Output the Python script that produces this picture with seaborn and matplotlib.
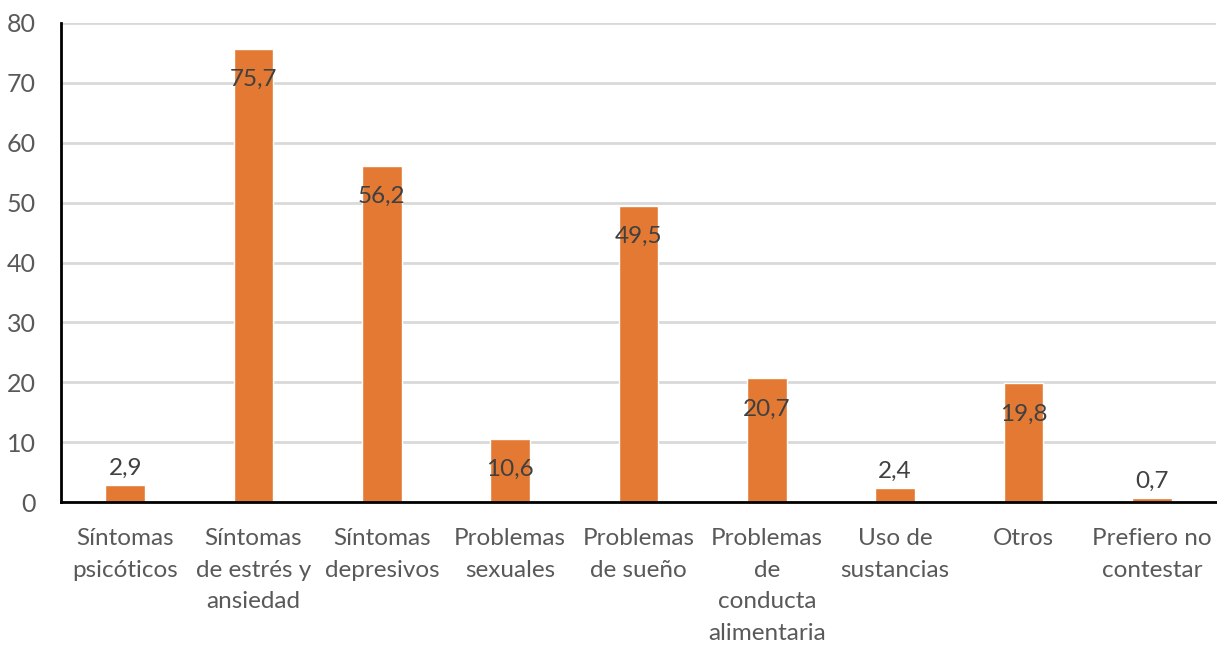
import matplotlib
matplotlib.use("Agg")
import matplotlib.pyplot as plt
import seaborn as sns
import pandas as pd

categorias = [
    "Síntomas\npsicóticos",
    "Síntomas\nde estrés y\nansiedad",
    "Síntomas\ndepresivos",
    "Problemas\nsexuales",
    "Problemas\nde sueño",
    "Problemas\nde\nconducta\nalimentaria",
    "Uso de\nsustancias",
    "Otros",
    "Prefiero no\ncontestar",
]
valores = [2.9, 75.7, 56.2, 10.6, 49.5, 20.7, 2.4, 19.8, 0.7]
ticks_y = [0, 10, 20, 30, 40, 50, 60, 70, 80]

sns.set_theme(style="white")
plt.rcParams["font.family"] = ["Lato", "DejaVu Sans"]

df = pd.DataFrame({"categoria": categorias, "valor": valores})

fig = plt.figure(figsize=(12.17, 6.48), dpi=100)
ax = fig.add_axes([61 / 1217, 1 - 502 / 648, (1216 - 61) / 1217, (502 - 23) / 648])

sns.barplot(data=df, x="categoria", y="valor", color="#E37933", saturation=1,
            width=0.31, ax=ax, zorder=3)

ax.set_ylim(0, 80)
ax.set_xlim(-0.5, len(categorias) - 0.5)
ax.set_yticks(ticks_y)
ax.yaxis.grid(True, color="#D9D9D9", linewidth=2, zorder=0)
ax.set_axisbelow(True)
ax.set_xlabel("")
ax.set_ylabel("")

for s in ["top", "right"]:
    ax.spines[s].set_visible(False)
for s in ["left", "bottom"]:
    ax.spines[s].set_color("black")
    ax.spines[s].set_linewidth(2)
    ax.spines[s].set_zorder(4)

ax.tick_params(axis="y", length=0, pad=18, labelsize=18, labelcolor="#595959")
ax.tick_params(axis="x", length=0, pad=19, labelsize=17.5, labelcolor="#595959")
for lbl in ax.get_xticklabels():
    lbl.set_linespacing(1.62)
    lbl.set_horizontalalignment("center")

# value labels: inside the top of tall bars, above short ones
px_per_unit = (502 - 23) / 80
for i, v in enumerate(valores):
    txt = f"{v:.1f}".replace(".", ",")
    if v >= 5:
        y = v - 31 / px_per_unit
    else:
        y = v + 16 / px_per_unit
    ax.text(i, y, txt, ha="center", va="center", fontsize=17.5, color="#404040", zorder=5)

fig.savefig("out.png", dpi=100)
